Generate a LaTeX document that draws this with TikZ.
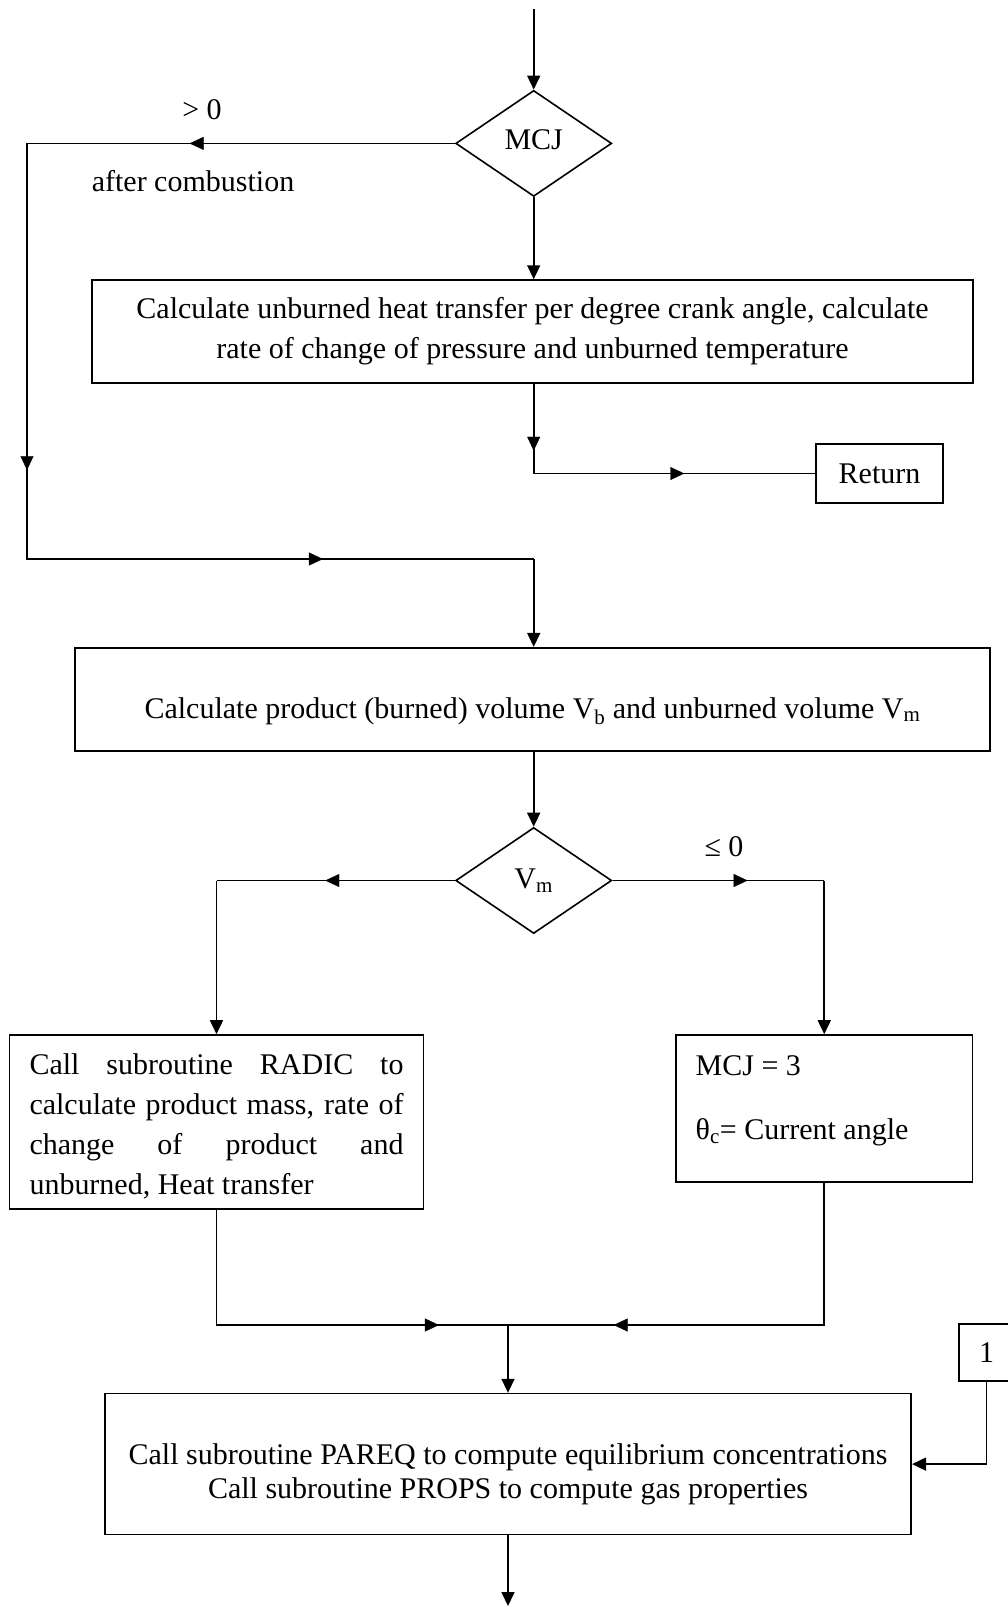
\documentclass[tikz,border=0pt]{standalone}
\usepackage{fontspec}
\setmainfont{Liberation Serif}
\usetikzlibrary{shapes.geometric,arrows.meta,decorations.markings}

\begin{document}
\begin{tikzpicture}[x=1pt,y=-1pt,
  font=\fontsize{30}{40}\selectfont,
  wire/.style={line width=1.6pt, line join=miter},
  tip/.style={wire, -{Triangle[length=14pt,width=13pt]}},
  box/.style={draw, rectangle, line width=1.6pt, inner sep=0pt},
  txt/.style={inner sep=0pt},
  decision/.style={draw, diamond, line width=1.6pt, minimum width=156pt,
                   minimum height=106pt, inner sep=0pt},
  tipat/.style={postaction={decorate}, decoration={markings,
                mark=at position #1 with {\arrow{Triangle[length=14pt,width=13pt]}}}},
]
\useasboundingbox (0,0) rectangle (1008,1607);
\clip (0,0) rectangle (1008,1607);

% ---- nodes ----
\node[decision] (mcj) at (533.7,143.4) {\raisebox{4pt}[\height][\depth]{MCJ}};
\node[box, minimum width=881pt, minimum height=102.7pt, align=center] (calc) at (532.5,331.4)
  {Calculate unburned heat transfer per degree crank angle, calculate\\
   rate of change of pressure and unburned temperature};
\node[box, minimum width=127pt, minimum height=59pt] (ret) at (879.5,473.5) {Return};

\node[box, minimum width=915pt, minimum height=103pt] (vol) at (532.5,699.2) {};
\node[txt] (voltxt) at (532.5,710.9)
  {Calculate product (burned) volume V\textsubscript{b} and unburned volume V\textsubscript{m}};

\node[decision] (vm) at (533.7,880.5) {V\textsubscript{m}};

\node[box, minimum width=414pt, minimum height=173.8pt] (radic) at (216.5,1121.9) {};
\node[txt, align=left] (radictxt) at (216.5,1126)
  {\makebox[374pt][s]{Call subroutine RADIC to}\\
   \makebox[374pt][s]{calculate product mass, rate of}\\
   \makebox[374pt][s]{change of product and}\\
   unburned, Heat transfer};

\node[box, minimum width=296.5pt, minimum height=146.7pt] (mcjset) at (824.25,1108.35) {};
\node[txt, anchor=base west] (mcjtxt) at (695.5,1075) {MCJ = 3};
\node[txt, anchor=base west] (thtxt) at (695.5,1139.7) {θ\textsubscript{c}= Current angle};

\node[box, minimum width=806.5pt, minimum height=141pt] (props) at (508,1464.1) {};
\node[txt, align=center] (propstxt) at (508,1474.6)
  {Call subroutine PAREQ to compute equilibrium concentrations\\[-5.7pt]
   Call subroutine PROPS to compute gas properties};

\node[box, minimum width=55pt, minimum height=57pt] (one) at (986.5,1352.2) {1};

% ---- branch labels ----
\node (gt) at (202,110) {> 0};
\node (after) at (193,181) {after combustion};
\node (le) at (724,846.7) {≤ 0};

% ---- connectors ----
\coordinate (top) at (533.7,9);
\draw[tip] (top) -- (mcj.north);
\draw[tip] (mcj.south) -- (mcj.south |- calc.north);

\coordinate (lx) at (27,0);
\coordinate (c1) at (mcj.west -| lx);
\coordinate (c2) at (27,559);
\coordinate (c3) at (c2 -| mcj.north);
\draw[wire] (mcj.west) -- (c1) -- (c2) -- (c3);
\path[tipat=0.62] (mcj.west) -- (c1);
\path[tipat=0.786] (c1) -- (c2);
\path[tipat=0.584] (c2) -- (c3);
\draw[tip] (c3) -- (c3 |- vol.north);

\coordinate (c0) at (mcj.south |- calc.south);
\coordinate (c4) at (c0 |- ret.west);
\draw[wire] (c0) -- (c4) -- (ret.west);
\path[tipat=0.747] (c0) -- (c4);
\path[tipat=0.535] (c4) -- (ret.west);

\draw[tip] (vm.north |- vol.south) -- (vm.north);

\coordinate (c5) at (vm.west -| radic.north);
\draw[wire] (vm.west) -- (c5);
\path[tipat=0.544] (vm.west) -- (c5);
\draw[tip] (c5) -- (radic.north);

\coordinate (c6) at (vm.east -| mcjset.north);
\draw[wire] (vm.east) -- (c6);
\path[tipat=0.638] (vm.east) -- (c6);
\draw[tip] (c6) -- (mcjset.north);

\coordinate (c8) at (508,1325);
\coordinate (c7) at (radic.south |- c8);
\coordinate (c9) at (mcjset.south |- c8);
\draw[wire] (radic.south) -- (c7) -- (c8);
\path[tipat=0.763] (c7) -- (c8);
\draw[wire] (mcjset.south) -- (c9) -- (c8);
\path[tipat=0.666] (c9) -- (c8);
\draw[tip] (c8) -- (props.north);

\coordinate (c10) at (one.south |- props.east);
\draw[wire] (one.south) -- (c10);
\draw[tip] (c10) -- (props.east);

\coordinate (bot) at (508,1606);
\draw[tip] (props.south) -- (bot);
\end{tikzpicture}
\end{document}
